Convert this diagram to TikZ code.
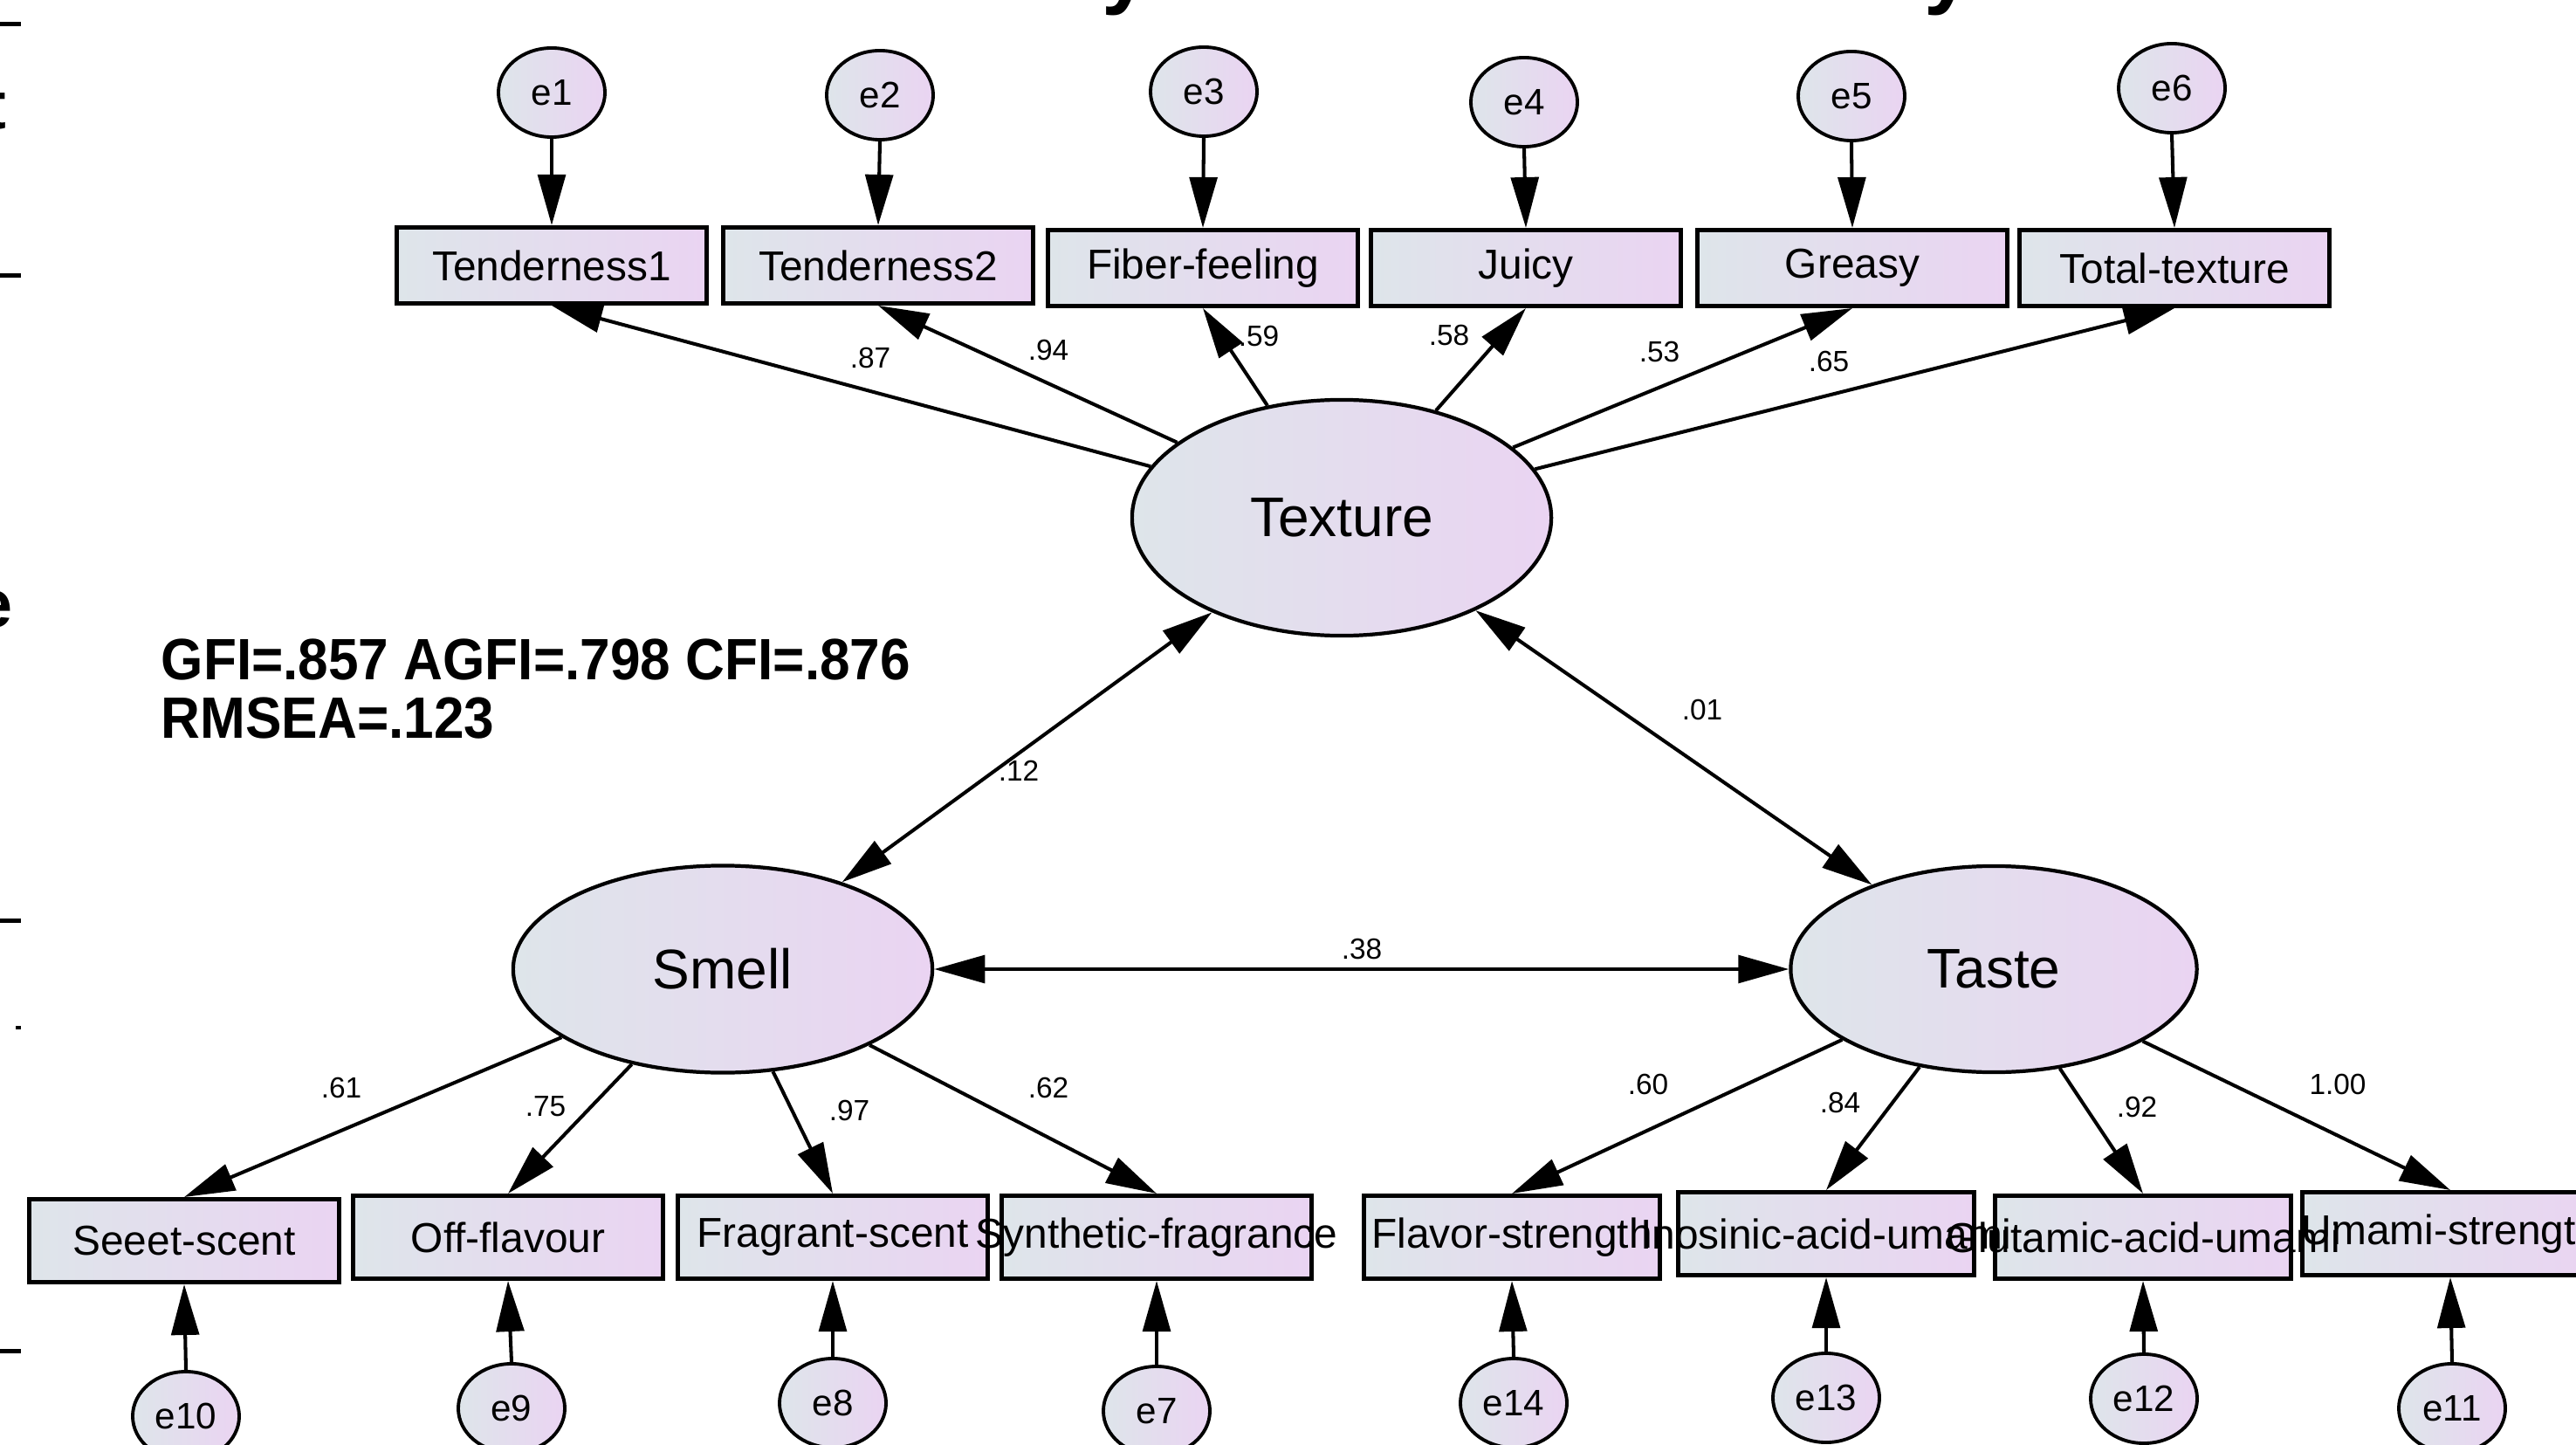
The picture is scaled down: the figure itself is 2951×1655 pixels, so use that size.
\documentclass[tikz,border=0pt]{standalone}
\usepackage{fontspec}
\setmainfont{Liberation Sans}
\usetikzlibrary{arrows.meta,shapes.geometric}
\definecolor{shadeL}{HTML}{DEE5EA}
\definecolor{shadeR}{HTML}{EAD4F2}
\tikzset{
  semline/.style={line width=1.15pt},
  arr/.style={semline,-{Triangle[length=16.5pt,width=9pt]}},
  dblarr/.style={semline,{Triangle[length=16.5pt,width=9pt]}-{Triangle[length=16.5pt,width=9pt]}},
  latent/.style={ellipse,draw,line width=1.2pt,left color=shadeL,right color=shadeR,
    inner sep=0pt,font=\fontsize{18.2}{20}\selectfont},
  errvar/.style={ellipse,draw,line width=1.1pt,left color=shadeL,right color=shadeR,
    minimum width=1.22cm,minimum height=1.02cm,inner sep=0pt,font=\fontsize{12}{14}\selectfont},
  obsbox/.style={rectangle,draw,line width=1.4pt,left color=shadeL,right color=shadeR,
    inner sep=0pt,minimum width=3.54cm,minimum height=0.87cm},
  obstext/.style={inner sep=0pt,font=\fontsize{13.6}{15}\selectfont},
  coef/.style={inner sep=0pt,font=\fontsize{9.5}{11}\selectfont},
  fitstat/.style={inner sep=0pt,anchor=base west,font=\fontsize{19}{21}\selectfont\bfseries},
  cutglyph/.style={inner sep=0pt,font=\fontsize{22}{24}\selectfont\bfseries},
}
\begin{document}
\begin{tikzpicture}[x=0.01cm,y=-0.01cm]
\useasboundingbox (0,0) rectangle (2951,1655);
\clip (0,0) rectangle (2951,1655);

% ---- latent factors
\node[latent,minimum width=4.80cm,minimum height=2.70cm] (Tex) at (1537,593) {Texture};
\node[latent,minimum width=4.80cm,minimum height=2.37cm] (Sme) at (828,1110) {Smell};
\node[latent,minimum width=4.65cm,minimum height=2.36cm] (Tas) at (2284,1110) {Taste};

% ---- observed variables (texture)
\node[obsbox] (T1) at (632,304) {};
\node[obsbox] (T2) at (1006,304) {};
\node[obsbox] (T3) at (1378,307) {};
\node[obsbox] (T4) at (1748,307) {};
\node[obsbox] (T5) at (2122,307) {};
\node[obsbox] (T6) at (2491,307) {};
% ---- observed variables (smell)
\node[obsbox,minimum height=0.95cm] (S1) at (211,1421) {};
\node[obsbox,minimum height=0.95cm] (S2) at (582,1417) {};
\node[obsbox,minimum height=0.95cm] (S3) at (954,1417) {};
\node[obsbox,minimum height=0.95cm] (S4) at (1325,1417) {};
% ---- observed variables (taste)
\node[obsbox,minimum width=3.38cm,minimum height=0.95cm] (A1) at (1732,1417) {};
\node[obsbox,minimum width=3.38cm,minimum height=0.95cm] (A2) at (2092,1413) {};
\node[obsbox,minimum width=3.38cm,minimum height=0.95cm] (A3) at (2455,1417) {};
\node[obsbox,minimum width=3.38cm,minimum height=0.95cm] (A4) at (2807,1413) {};

% ---- error terms
\node[errvar] (e1) at (632,106) {e1};
\node[errvar] (e2) at (1008,109) {e2};
\node[errvar] (e3) at (1379,105) {e3};
\node[errvar] (e4) at (1746,117) {e4};
\node[errvar] (e5) at (2121,110) {e5};
\node[errvar] (e6) at (2488,101) {e6};
\node[errvar] (e10) at (213,1622) {e10};
\node[errvar] (e9) at (586,1613) {e9};
\node[errvar] (e8) at (954,1607) {e8};
\node[errvar] (e7) at (1325,1616) {e7};
\node[errvar] (e14) at (1734,1607) {e14};
\node[errvar] (e13) at (2092,1601) {e13};
\node[errvar] (e12) at (2456,1602) {e12};
\node[errvar] (e11) at (2809,1613) {e11};

% ---- error paths
\foreach \e/\b in {e1/T1,e2/T2,e3/T3,e4/T4,e5/T5,e6/T6}
  \draw[arr] (\e.south) -- (\b.north);
\foreach \e/\b in {e10/S1,e9/S2,e8/S3,e7/S4,e14/A1,e13/A2,e12/A3,e11/A4}
  \draw[arr] (\e.north) -- (\b.south);

% ---- factor loadings
\foreach \b in {T1,T2,T3,T4,T5,T6}
  \draw[arr] (Tex) -- (\b.south);
\foreach \b in {S1,S2,S3,S4}
  \draw[arr] (Sme) -- (\b.north);
\foreach \b in {A1,A2,A3,A4}
  \draw[arr] (Tas) -- (\b.north);

% ---- factor covariances
\draw[dblarr] (Sme) -- (Tex);
\draw[dblarr] (Tex) -- (Tas);
\draw[dblarr] (Sme) -- (Tas);

% ---- indicator names (drawn last, so long names run over neighbours)
\node[obstext] (tT1) at (T1) {Tenderness1};
\node[obstext] (tT2) at (T2) {Tenderness2};
\node[obstext] (tT3) at (T3) {Fiber-feeling};
\node[obstext] (tT4) at (T4) {Juicy};
\node[obstext] (tT5) at (T5) {Greasy};
\node[obstext] (tT6) at (T6) {Total-texture};
\node[obstext] (tS1) at (S1) {Seeet-scent};
\node[obstext] (tS2) at (S2) {Off-flavour};
\node[obstext] (tS3) at (S3) {Fragrant-scent};
\node[obstext] (tS4) at (S4) {Synthetic-fragrance};
\node[obstext] (tA1) at (A1) {Flavor-strength};
\node[obstext] (tA2) at (A2) {Inosinic-acid-umami};
\node[obstext] (tA3) at (A3) {Glutamic-acid-umami};
\node[obstext] (tA4) at (A4) {Umami-strength};

% ---- standardised estimates
\node[coef] (c1) at (997,410) {.87};
\node[coef] (c2) at (1201,401) {.94};
\node[coef] (c3) at (1442,385) {.59};
\node[coef] (c4) at (1660,384) {.58};
\node[coef] (c5) at (1901,403) {.53};
\node[coef] (c6) at (2095,414) {.65};
\node[coef] (c7) at (1167,883) {.12};
\node[coef] (c8) at (1950,813) {.01};
\node[coef] (c9) at (1560,1087) {.38};
\node[coef] (c10) at (391,1246) {.61};
\node[coef] (c11) at (625,1267) {.75};
\node[coef] (c12) at (973,1272) {.97};
\node[coef] (c13) at (1201,1246) {.62};
\node[coef] (c14) at (1888,1242) {.60};
\node[coef] (c15) at (2108,1263) {.84};
\node[coef] (c16) at (2448,1268) {.92};
\node[coef] (c17) at (2678,1242) {1.00};

% ---- fit indices
\node[fitstat] (fit1) at (184,778) {\scalebox{0.93}[1]{GFI=.857 AGFI=.798 CFI=.876}};
\node[fitstat] (fit2) at (184,845) {\scalebox{0.93}[1]{RMSEA=.123}};

% ---- page-edge remnants
\foreach \yy in {28,316,1054,1547}
  \fill (0,\yy-2.5) rectangle (24,\yy+2.5);
\fill (18,1175) rectangle (24,1179);
\node[cutglyph,anchor=base east] (g1) at (15,718) {e};
\node[cutglyph,anchor=base east] (g2) at (8,148) {t};
\node[cutglyph,anchor=base east] (g3) at (5,218) {.};
\node[inner sep=0pt,anchor=base,font=\fontsize{28}{30}\selectfont\bfseries] (g4) at (1290,-2) {y};
\node[inner sep=0pt,anchor=base,font=\fontsize{28}{30}\selectfont\bfseries] (g5) at (2232,-2) {y};
\end{tikzpicture}
\end{document}
